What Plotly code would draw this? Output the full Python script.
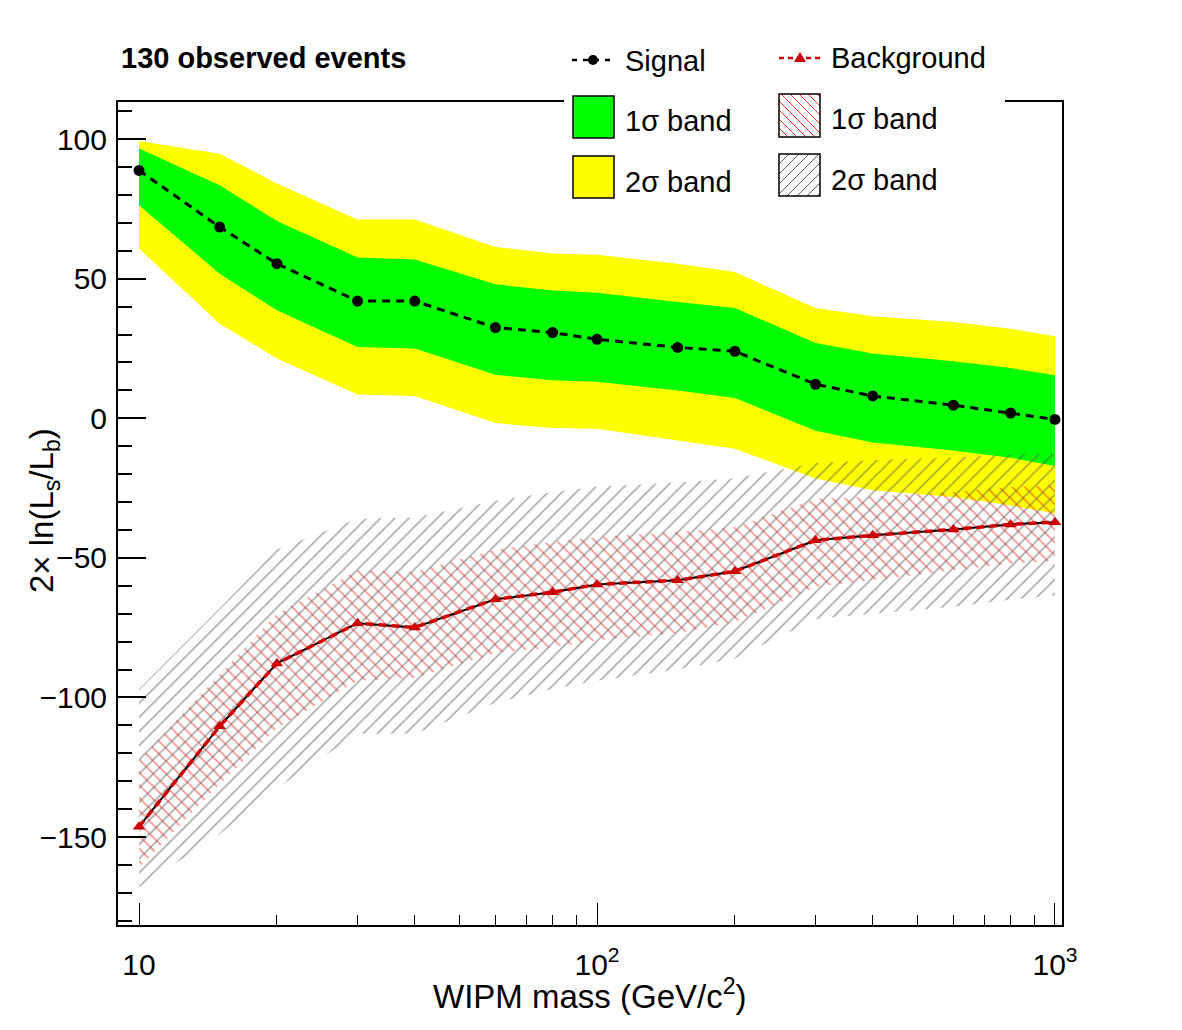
import plotly.graph_objects as go

# ---------------- data ----------------
mass = [10, 15, 20, 30, 40, 60, 80, 100, 150, 200, 300, 400, 600, 800, 1000]

sig = [88.8, 68.5, 55.4, 42.0, 42.0, 32.5, 30.7, 28.3, 25.4, 24.0, 12.2, 8.0, 4.7, 1.9, -0.4]
sig_1s_hi = [96.6, 83.5, 70.7, 57.6, 56.9, 48.0, 45.8, 45.0, 41.7, 39.5, 27.0, 23.2, 20.4, 18.0, 15.4]
sig_1s_lo = [76.3, 51.8, 38.7, 25.5, 25.0, 15.6, 13.6, 13.1, 10.0, 7.3, -4.5, -8.7, -11.5, -14.1, -17.1]
sig_2s_hi = [99.3, 94.8, 84.1, 71.2, 71.2, 61.4, 59.0, 58.6, 55.4, 52.4, 39.5, 36.6, 34.5, 32.1, 29.4]
sig_2s_lo = [60.8, 33.9, 21.4, 8.5, 8.0, -1.7, -3.5, -3.7, -7.9, -10.9, -21.6, -25.8, -28.2, -31.2, -34.1]

bkg = [-146.3, -110.3, -87.8, -73.4, -74.9, -64.8, -62.3, -59.5, -58.0, -54.8, -43.7, -41.9, -39.8, -38.0, -37.2]
bkg_1s_hi = [-122.5, -92.0, -70.0, -54.5, -55.0, -47.0, -44.3, -42.5, -40.7, -39.0, -28.8, -28.0, -26.4, -24.6, -24.0]
bkg_1s_lo = [-161.0, -131.0, -111.0, -94.0, -93.0, -84.0, -82.0, -79.5, -77.0, -73.0, -60.4, -58.0, -54.4, -52.0, -51.0]
bkg_2s_hi = [-97.0, -68.0, -47.0, -36.0, -35.5, -29.5, -26.5, -24.5, -23.0, -21.5, -16.0, -15.0, -14.0, -13.0, -12.5]
bkg_2s_lo = [-168.0, -149.0, -132.5, -113.0, -113.0, -102.0, -97.0, -94.0, -90.0, -86.0, -72.0, -70.0, -67.5, -65.0, -63.5]

x_tickvals = [10, 100, 1000]
x_ticktext = ["10", "10<sup>2</sup>", "10<sup>3</sup>"]
y_tickvals = [-150, -100, -50, 0, 50, 100]

title_text = "<b>130 observed events</b>"
x_title = "WIPM mass (GeV/c<sup>2</sup>)"
y_title = "2× ln(L<sub>s</sub>/L<sub>b</sub>)"

# ---------------- layout geometry ----------------
W, H = 1182, 1030
L, R, T, B = 118, 1062, 102, 925
FONT = "Liberation Sans, Arial, Helvetica, sans-serif"


def px(x):
    return (x - L) / (R - L)


def py(y):
    return (B - y) / (B - T)


def band(lo, hi):
    return mass + mass[::-1], hi + lo[::-1]


fig = go.Figure()

# signal bands
bx, by = band(sig_2s_lo, sig_2s_hi)
fig.add_trace(go.Scatter(x=bx, y=by, fill="toself", fillcolor="#ffff00",
                         line=dict(width=0), mode="lines", hoverinfo="skip", showlegend=False))
bx, by = band(sig_1s_lo, sig_1s_hi)
fig.add_trace(go.Scatter(x=bx, y=by, fill="toself", fillcolor="#00ff00",
                         line=dict(width=0), mode="lines", hoverinfo="skip", showlegend=False))

# background hatched bands
bx, by = band(bkg_1s_lo, bkg_1s_hi)
fig.add_trace(go.Scatter(x=bx, y=by, fill="toself", fillcolor="rgba(0,0,0,0)",
                         fillpattern=dict(shape="\\", fgcolor="#ff0000", bgcolor="rgba(0,0,0,0)",
                                          size=9, solidity=0.16, fillmode="overlay"),
                         line=dict(width=0, color="rgba(0,0,0,0)"), mode="lines",
                         hoverinfo="skip", showlegend=False))
bx, by = band(bkg_2s_lo, bkg_2s_hi)
fig.add_trace(go.Scatter(x=bx, y=by, fill="toself", fillcolor="rgba(0,0,0,0)",
                         fillpattern=dict(shape="/", fgcolor="#555555", bgcolor="rgba(0,0,0,0)",
                                          size=10, solidity=0.16, fillmode="overlay"),
                         line=dict(width=0, color="rgba(0,0,0,0)"), mode="lines",
                         hoverinfo="skip", showlegend=False))

# signal line
fig.add_trace(go.Scatter(x=mass, y=sig, mode="lines+markers",
                         line=dict(color="black", width=3, dash="8px,6px"),
                         marker=dict(symbol="circle", size=11, color="black"),
                         showlegend=False))
# background line: black solid under red dashes
fig.add_trace(go.Scatter(x=mass, y=bkg, mode="lines",
                         line=dict(color="black", width=2), hoverinfo="skip", showlegend=False))
fig.add_trace(go.Scatter(x=mass, y=bkg, mode="lines+markers",
                         line=dict(color="#d00000", width=3.5, dash="8px,5px"),
                         marker=dict(symbol="triangle-up", size=11, color="#cc0000"),
                         showlegend=False))

# ---------------- legend (drawn manually) ----------------
shapes = []
annotations = []

# white legend background covering the frame
shapes.append(dict(type="rect", xref="paper", yref="paper", x0=px(564), x1=px(1005),
                   y0=py(205), y1=py(30), fillcolor="white", line=dict(width=0), layer="above"))

# Signal sample
shapes.append(dict(type="line", xref="paper", yref="paper", x0=px(572), x1=px(614),
                   y0=py(60), y1=py(60), line=dict(color="black", width=2.5, dash="5px,6px"), layer="above"))
shapes.append(dict(type="circle", xref="paper", yref="paper", x0=px(588), x1=px(598),
                   y0=py(65), y1=py(55), fillcolor="black", line=dict(width=0), layer="above"))
# Background sample
shapes.append(dict(type="line", xref="paper", yref="paper", x0=px(779), x1=px(821),
                   y0=py(58), y1=py(58), line=dict(color="#d00000", width=2.5, dash="5px,4px"), layer="above"))
tx0, tx1, tyb, tyt = px(794), px(806), py(62), py(52)
shapes.append(dict(type="path", xref="paper", yref="paper",
                   path=f"M {tx0} {tyb} L {tx1} {tyb} L {(tx0 + tx1) / 2} {tyt} Z",
                   fillcolor="#cc0000", line=dict(width=0), layer="above"))

# colour boxes
shapes.append(dict(type="rect", xref="paper", yref="paper", x0=px(573), x1=px(614),
                   y0=py(138), y1=py(96), fillcolor="#00ff00", line=dict(color="black", width=1.5), layer="above"))
shapes.append(dict(type="rect", xref="paper", yref="paper", x0=px(573), x1=px(614),
                   y0=py(198), y1=py(156), fillcolor="#ffff00", line=dict(color="black", width=1.5), layer="above"))


def hatch_box(x0, y0, x1, y1, direction, color, step):
    segs = []
    w, h = x1 - x0, y1 - y0
    c = -h
    while c < w:
        if direction == "/":
            xa, ya = x0 + c, y1
            xb, yb = x0 + c + h, y0
        else:
            xa, ya = x0 + c, y0
            xb, yb = x0 + c + h, y1
        if xa < x0:
            d = x0 - xa
            xa = x0
            ya = ya - d if direction == "/" else ya + d
        if xb > x1:
            d = xb - x1
            xb = x1
            yb = yb + d if direction == "/" else yb - d
        if xb > xa:
            segs.append((xa, ya, xb, yb))
        c += step
    for (xa, ya, xb, yb) in segs:
        shapes.append(dict(type="line", xref="paper", yref="paper", x0=px(xa), y0=py(ya),
                           x1=px(xb), y1=py(yb), line=dict(color=color, width=1), layer="above"))
    shapes.append(dict(type="rect", xref="paper", yref="paper", x0=px(x0), x1=px(x1),
                       y0=py(y1), y1=py(y0), fillcolor="rgba(0,0,0,0)",
                       line=dict(color="black", width=1.5), layer="above"))


hatch_box(779, 94, 820, 137, "\\", "#ff3030", 9)
hatch_box(779, 154, 820, 196, "/", "#606060", 10)

legend_font = dict(family=FONT, size=29, color="black")
for text, x, y in [("Signal", 623, 61), ("Background", 829, 58),
                   ("1σ band", 623, 121), ("2σ band", 623, 182),
                   ("1σ band", 829, 119), ("2σ band", 829, 180)]:
    annotations.append(dict(text=text, xref="paper", yref="paper", x=px(x), y=py(y),
                            xanchor="left", yanchor="middle", showarrow=False, font=legend_font))

annotations.append(dict(text=title_text, xref="paper", yref="paper", x=px(119), y=py(58),
                        xanchor="left", yanchor="middle", showarrow=False,
                        font=dict(family=FONT, size=29, color="black")))
annotations.append(dict(text=x_title, xref="paper", yref="paper", x=0.5, y=py(994),
                        xanchor="center", yanchor="middle", showarrow=False,
                        font=dict(family=FONT, size=33, color="black")))
annotations.append(dict(text=y_title, xref="paper", yref="paper", x=px(44), y=py(511),
                        xanchor="center", yanchor="middle", showarrow=False, textangle=-90,
                        font=dict(family=FONT, size=33, color="black")))

minor_x = [20, 30, 40, 50, 60, 70, 80, 90, 200, 300, 400, 500, 600, 700, 800, 900]

fig.update_layout(
    width=W, height=H,
    margin=dict(l=L, r=W - R, t=T, b=H - B, autoexpand=False),
    paper_bgcolor="white", plot_bgcolor="white",
    showlegend=False,
    shapes=shapes, annotations=annotations,
    font=dict(family=FONT, size=30, color="black"),
    xaxis=dict(type="log", range=[0.9541, 3.0153], showgrid=False, zeroline=False,
               showline=True, linecolor="black", linewidth=2, mirror=True,
               ticks="inside", ticklen=22, tickwidth=1, tickcolor="black",
               tickmode="array", tickvals=x_tickvals, ticktext=x_ticktext,
               ticklabelstandoff=12,
               tickfont=dict(family=FONT, size=30),
               minor=dict(ticks="inside", ticklen=10, tickwidth=1, tickcolor="black",
                          tickmode="array", tickvals=minor_x, showgrid=False)),
    yaxis=dict(range=[-181.5, 113.3], showgrid=False, zeroline=False,
               showline=True, linecolor="black", linewidth=2, mirror=True,
               ticks="inside", ticklen=28, tickwidth=1.5, tickcolor="black",
               tickmode="array", tickvals=y_tickvals,
               ticklabelstandoff=3,
               tickfont=dict(family=FONT, size=30),
               minor=dict(ticks="inside", ticklen=14, tickwidth=1.5, tickcolor="black",
                          dtick=10, tick0=0, showgrid=False)),
)

fig.write_html("out.html")
